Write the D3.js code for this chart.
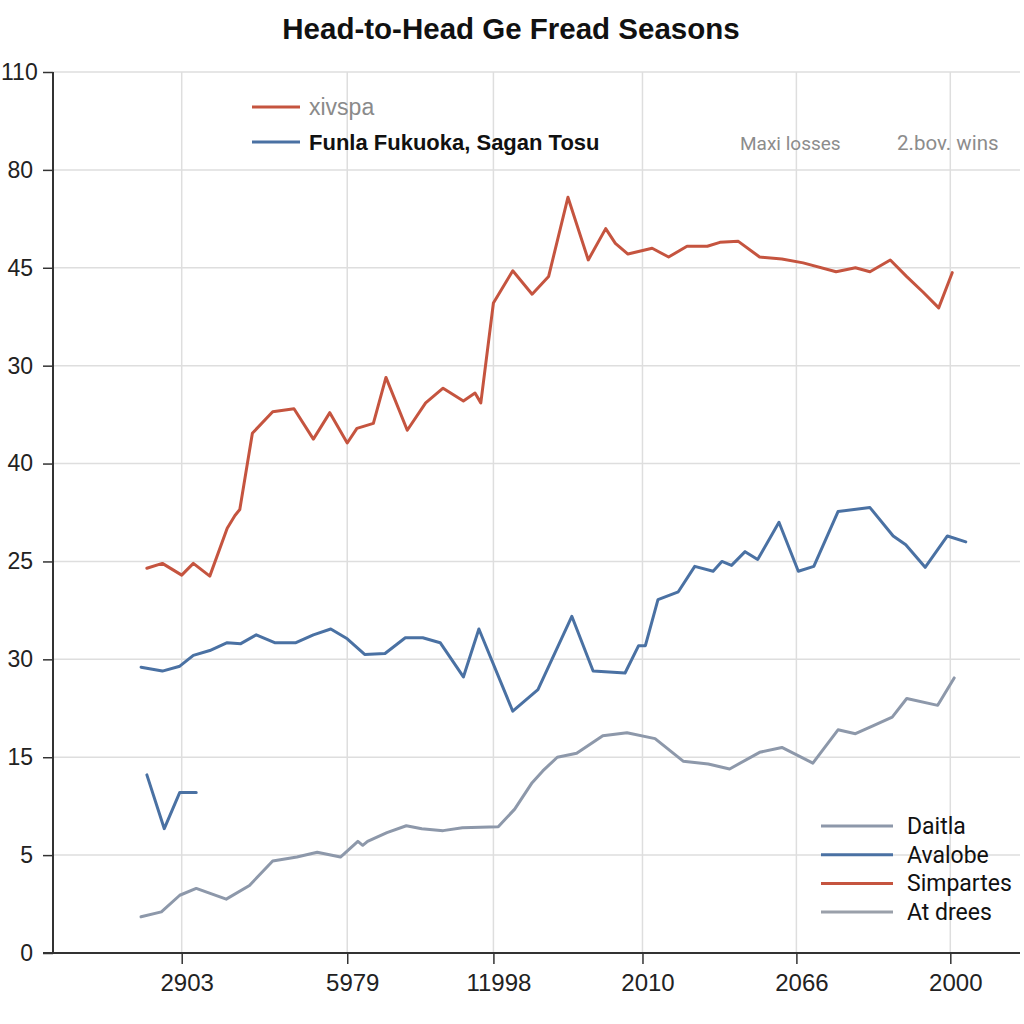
<!DOCTYPE html>
<html>
<head>
<meta charset="utf-8">
<script src="https://cdn.jsdelivr.net/npm/d3@7"></script>
<style>
  html, body { margin: 0; padding: 0; background: #ffffff; }
  svg { display: block; font-family: "Liberation Sans", Arial, sans-serif; }
</style>
</head>
<body>
<svg id="chart" width="1024" height="1024"></svg>
<script>
// ---- Data ----
const chartTitle = "Head-to-Head Ge Fread Seasons";

// y ticks: positions on the value axis and their (printed) labels
const yTickValues = [0, 10, 20, 30, 40, 50, 60, 70, 80, 90];
const yTickLabels = ["0", "5", "15", "30", "25", "40", "30", "45", "80", "110"];

// x ticks: positions on the season axis and their (printed) labels
const xTickValues = [13.4, 30.5, 45.6, 61.0, 76.9, 92.8];
const xTickLabels = ["2903", "5979", "11998", "2010", "2066", "2000"];

// Red series
const redX = [9.8, 11.4, 13.4, 14.6, 16.3, 18.1, 18.9, 19.4, 20.7, 22.8, 25.0, 27.0, 28.7, 30.5, 31.5, 33.2, 34.5, 36.7, 38.6, 40.4, 42.5, 43.7, 44.3, 45.6, 47.6, 49.6, 51.3, 53.3, 55.4, 57.2, 58.2, 59.5, 62.0, 63.7, 65.6, 67.7, 69.0, 70.9, 73.1, 75.4, 77.6, 81.0, 83.0, 84.5, 86.6, 88.3, 90.0, 91.6, 93.0];
const redY = [39.3, 39.8, 38.6, 39.8, 38.5, 43.4, 44.7, 45.3, 53.1, 55.3, 55.6, 52.5, 55.2, 52.1, 53.6, 54.1, 58.8, 53.4, 56.2, 57.7, 56.4, 57.2, 56.2, 66.4, 69.7, 67.3, 69.1, 77.2, 70.8, 74.0, 72.5, 71.4, 72.0, 71.1, 72.2, 72.2, 72.6, 72.7, 71.1, 70.9, 70.5, 69.6, 70.0, 69.6, 70.8, 69.1, 67.5, 65.9, 69.5];

// Blue series (main)
const blueX = [9.2, 11.4, 13.2, 14.6, 16.3, 18.1, 19.5, 21.1, 23.0, 25.2, 27.0, 28.8, 30.5, 32.3, 34.4, 36.5, 38.3, 40.1, 42.5, 44.1, 47.6, 50.2, 53.7, 55.9, 59.2, 60.6, 61.3, 62.6, 64.7, 66.4, 68.3, 69.2, 70.2, 71.6, 72.9, 75.1, 77.1, 78.7, 81.2, 84.5, 86.9, 88.2, 90.2, 92.5, 94.4];
const blueY = [29.2, 28.8, 29.3, 30.4, 30.9, 31.7, 31.6, 32.5, 31.7, 31.7, 32.5, 33.1, 32.1, 30.5, 30.6, 32.2, 32.2, 31.7, 28.2, 33.1, 24.7, 26.9, 34.4, 28.8, 28.6, 31.4, 31.4, 36.1, 36.9, 39.5, 39.0, 40.0, 39.6, 41.0, 40.2, 44.0, 39.0, 39.5, 45.1, 45.5, 42.6, 41.7, 39.4, 42.6, 42.0];

// Blue short fragment
const blueShortX = [9.8, 11.6, 13.2, 14.9];
const blueShortY = [18.2, 12.7, 16.4, 16.4];

// Gray series
const grayX = [9.2, 11.3, 13.2, 14.9, 18.0, 20.4, 22.8, 25.3, 27.4, 29.8, 31.6, 32.1, 32.6, 34.6, 36.6, 38.2, 40.4, 42.4, 46.1, 47.8, 49.6, 50.7, 52.2, 54.2, 56.9, 59.4, 62.3, 65.2, 67.8, 70.0, 73.1, 75.4, 78.6, 81.2, 83.0, 84.8, 86.8, 88.3, 91.5, 93.2];
const grayY = [3.7, 4.2, 5.9, 6.6, 5.5, 6.9, 9.4, 9.8, 10.3, 9.8, 11.4, 11.0, 11.4, 12.3, 13.0, 12.7, 12.5, 12.8, 12.9, 14.7, 17.4, 18.6, 20.0, 20.4, 22.2, 22.5, 21.9, 19.6, 19.3, 18.8, 20.5, 21.0, 19.4, 22.8, 22.4, 23.2, 24.1, 26.0, 25.3, 28.1];

// Legends
const topLegendLabels = ["xivspa", "Funla Fukuoka, Sagan Tosu"];
const topNotes = ["Maxi losses", "2.bov. wins"];
const bottomLegendLabels = ["Daitla", "Avalobe", "Simpartes", "At drees"];

// ---- Styles ----
const RED = "#c5543f";
const BLUE = "#4a71a3";
const GRAY = "#8d98aa";
const GRAY2 = "#9aa0aa";

const svg = d3.select("#chart");
const mLeft = 53, mRight = 1020, mTop = 72, mBottom = 953;

const x = d3.scaleLinear().domain([0, 100]).range([mLeft - 1, mLeft - 1 + 968]);
const y = d3.scaleLinear().domain([0, 90]).range([mBottom, mTop]);

// Grid
const grid = svg.append("g");
grid.selectAll("line.h").data(yTickValues.slice(1)).join("line")
  .attr("class", "h")
  .attr("x1", mLeft).attr("x2", mRight)
  .attr("y1", d => y(d)).attr("y2", d => y(d))
  .attr("stroke", "#dedede").attr("stroke-width", 1.5);
grid.selectAll("line.v").data(xTickValues).join("line")
  .attr("class", "v")
  .attr("x1", d => x(d)).attr("x2", d => x(d))
  .attr("y1", mTop).attr("y2", mBottom)
  .attr("stroke", "#dedede").attr("stroke-width", 1.5);

// Axes
const yAxis = d3.axisLeft(y).tickValues(yTickValues)
  .tickFormat((d, i) => yTickLabels[i]).tickSize(10).tickPadding(10).tickSizeOuter(0);
const gy = svg.append("g").attr("transform", `translate(${mLeft},0)`).call(yAxis);
gy.select(".domain").attr("stroke", "#333").attr("stroke-width", 2).attr("d", `M0,${mTop}V${mBottom}`);
gy.selectAll(".tick line").attr("stroke", "#333").attr("stroke-width", 1.5);
gy.selectAll(".tick text").attr("font-size", 23).attr("fill", "#222")
  .attr("font-family", "'Liberation Sans', Arial, sans-serif");
// keep the widest label inside the page edge
gy.selectAll(".tick text").filter((d, i) => yTickLabels[i].length > 2)
  .attr("text-anchor", "start").attr("x", -mLeft + 1);

const xAxis = d3.axisBottom(x).tickValues(xTickValues)
  .tickFormat((d, i) => xTickLabels[i]).tickSize(11).tickPadding(10).tickSizeOuter(0);
const gx = svg.append("g").attr("transform", `translate(0,${mBottom})`).call(xAxis);
gx.select(".domain").attr("stroke", "#333").attr("stroke-width", 2).attr("d", `M${mLeft - 10},0H${mRight}`);
gx.selectAll(".tick line").attr("stroke", "#333").attr("stroke-width", 1.5);
gx.selectAll(".tick text").attr("font-size", 24).attr("fill", "#222")
  .attr("font-family", "'Liberation Sans Narrow', 'Liberation Sans', Arial, sans-serif")
  .attr("dx", 5);

// Lines
const line = d3.line().x(d => x(d[0])).y(d => y(d[1])).curve(d3.curveLinear);
function drawSeries(xs, ys, color, w) {
  svg.append("path")
    .datum(xs.map((v, i) => [v, ys[i]]))
    .attr("d", line)
    .attr("fill", "none").attr("stroke", color)
    .attr("stroke-width", w).attr("stroke-linejoin", "round").attr("stroke-linecap", "round");
}
drawSeries(grayX, grayY, GRAY, 3);
drawSeries(blueX, blueY, BLUE, 3);
drawSeries(blueShortX, blueShortY, BLUE, 3);
drawSeries(redX, redY, RED, 3);

// Title
svg.append("text").attr("x", 511).attr("y", 39).attr("text-anchor", "middle")
  .attr("font-size", 29.5).attr("font-weight", "bold").attr("fill", "#111")
  .text(chartTitle);

// Top-left legend
const tl = svg.append("g");
const tlColors = [RED, BLUE];
const tlFill = ["#8a8a8a", "#111"];
const tlWeight = ["normal", "bold"];
const tlSize = [23, 22];
topLegendLabels.forEach((lab, i) => {
  const yy = 107 + i * 35;
  tl.append("line").attr("x1", 252).attr("x2", 300).attr("y1", yy).attr("y2", yy)
    .attr("stroke", tlColors[i]).attr("stroke-width", 3);
  tl.append("text").attr("x", 309).attr("y", yy + 8).attr("font-size", tlSize[i])
    .attr("fill", tlFill[i]).attr("font-weight", tlWeight[i])
    .attr("font-family", "'Liberation Sans', Arial, sans-serif")
    .text(lab);
});

// Top-right notes
const noteX = [740, 897];
const noteSize = [19, 20.5];
topNotes.forEach((t, i) => {
  svg.append("text").attr("x", noteX[i]).attr("y", 150).attr("font-size", noteSize[i])
    .attr("fill", "#8c8c8c").attr("font-family", "Roboto, 'Liberation Sans', Arial, sans-serif")
    .text(t);
});

// Bottom-right legend
const brColors = [GRAY, BLUE, RED, GRAY2];
bottomLegendLabels.forEach((lab, i) => {
  const yy = 826 + i * 28.7;
  svg.append("line").attr("x1", 821).attr("x2", 893).attr("y1", yy).attr("y2", yy)
    .attr("stroke", brColors[i]).attr("stroke-width", 3);
  svg.append("text").attr("x", 907).attr("y", yy + 8).attr("font-size", 23)
    .attr("fill", "#111").attr("font-family", "Roboto, 'Liberation Sans', Arial, sans-serif")
    .text(lab);
});
</script>
</body>
</html>
